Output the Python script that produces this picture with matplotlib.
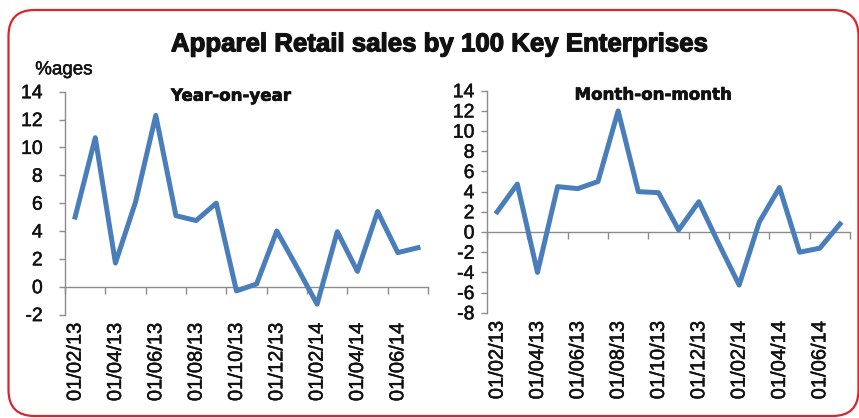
import numpy as np
import matplotlib
matplotlib.use('Agg')
import matplotlib.pyplot as plt
import matplotlib.patheffects as pe
from matplotlib.patches import FancyBboxPatch

# Monthly observations, Feb 2013 .. Jul 2014
months = ['01/02/13', '01/03/13', '01/04/13', '01/05/13', '01/06/13', '01/07/13',
          '01/08/13', '01/09/13', '01/10/13', '01/11/13', '01/12/13', '01/01/14',
          '01/02/14', '01/03/14', '01/04/14', '01/05/14', '01/06/14', '01/07/14']

# Growth rates in %
yoy = [5.0, 10.7, 1.7, 6.1, 12.3, 5.1, 4.75, 6.0, -0.3, 0.2, 4.0, 1.4,
       -1.25, 3.95, 1.1, 5.4, 2.45, 2.8]
mom = [2.0, 4.75, -4.0, 4.5, 4.3, 5.0, 12.0, 4.0, 3.9, 0.2, 3.0, -1.2,
       -5.25, 1.0, 4.4, -2.0, -1.6, 0.8]

yoy_ylim = (-2, 14)
mom_ylim = (-8, 14)

line_color = '#4a7ebb'
axis_grey = '#8c8c8c'
border_red = '#d7262e'
text_color = '#111111'

plt.rcParams['font.family'] = ['Liberation Sans', 'DejaVu Sans']
plt.rcParams['axes.unicode_minus'] = False

# slightly heavier strokes, the original text is set darker than Liberation
thin_bold = [pe.withStroke(linewidth=0.35, foreground=text_color)]
heavy = [pe.withStroke(linewidth=0.9, foreground=text_color)]


def draw_panel(ax, values, ylim, title, label_pad):
  x = np.arange(len(values))
  ax.plot(x, values, color=line_color, lw=3.6, solid_joinstyle='round', zorder=3)

  ax.set_xlim(-0.5, len(values) - 0.5)
  ax.set_ylim(*ylim)
  ax.set_yticks(np.arange(ylim[0], ylim[1] + 1, 2))
  ax.tick_params(axis='y', direction='out', length=4, width=1, color=axis_grey,
                 labelsize=14, pad=label_pad, labelcolor=text_color)

  # Category labels every second month, sitting below the plot area
  ax.set_xticks(x[::2])
  ax.set_xticklabels(months[::2], rotation=90)
  ax.tick_params(axis='x', length=0, labelsize=14.5, pad=6, labelcolor=text_color)

  for lbl in ax.get_xticklabels() + ax.get_yticklabels():
    lbl.set_path_effects(thin_bold)

  for side in ['top', 'right', 'bottom']:
    ax.spines[side].set_visible(False)
  ax.spines['left'].set_color(axis_grey)
  ax.spines['left'].set_linewidth(1)

  # Horizontal axis crossing at zero with tick marks between categories
  zero_pos = (0 - ylim[0]) / (ylim[1] - ylim[0])
  sec = ax.secondary_xaxis(zero_pos)
  sec.set_zorder(1)
  sec.set_xticks(np.arange(-0.5, len(values), 2))
  sec.set_xticklabels([])
  sec.tick_params(axis='x', direction='out', length=5, width=1, color=axis_grey)
  for side in ['top', 'bottom']:
    sec.spines[side].set_color(axis_grey)
    sec.spines[side].set_linewidth(1)

  ax.text(0.457, 0.982, title, transform=ax.transAxes, ha='center', va='center',
          fontsize=12, fontweight='bold', family='DejaVu Sans', color=text_color,
          path_effects=[pe.withStroke(linewidth=0.5, foreground=text_color)])


fig = plt.figure(figsize=(8.59, 4.18), dpi=100)

# Rounded red frame round the whole graphic
frame = FancyBboxPatch((0.085, 0.02), 8.50, 4.06,
                       boxstyle='round,pad=0,rounding_size=0.26',
                       transform=fig.dpi_scale_trans, fill=False,
                       edgecolor=border_red, linewidth=1.6, clip_on=False)
fig.patches.append(frame)

fig.text(0.512, 0.894, 'Apparel Retail sales by 100 Key Enterprises',
         ha='center', va='center', fontsize=18.6, fontweight='bold', color=text_color,
         path_effects=heavy)

ax1 = fig.add_axes([0.0757, 0.2474, 0.4226, 0.5332])
draw_panel(ax1, yoy, yoy_ylim, 'Year-on-year', 12)
fig.text(0.041, 0.833, '%ages', ha='left', va='center', fontsize=13.5, color=text_color,
         path_effects=thin_bold)

ax2 = fig.add_axes([0.567, 0.2517, 0.4226, 0.5313])
draw_panel(ax2, mom, mom_ylim, 'Month-on-month', 5)

plt.savefig('out.png', dpi=100)
